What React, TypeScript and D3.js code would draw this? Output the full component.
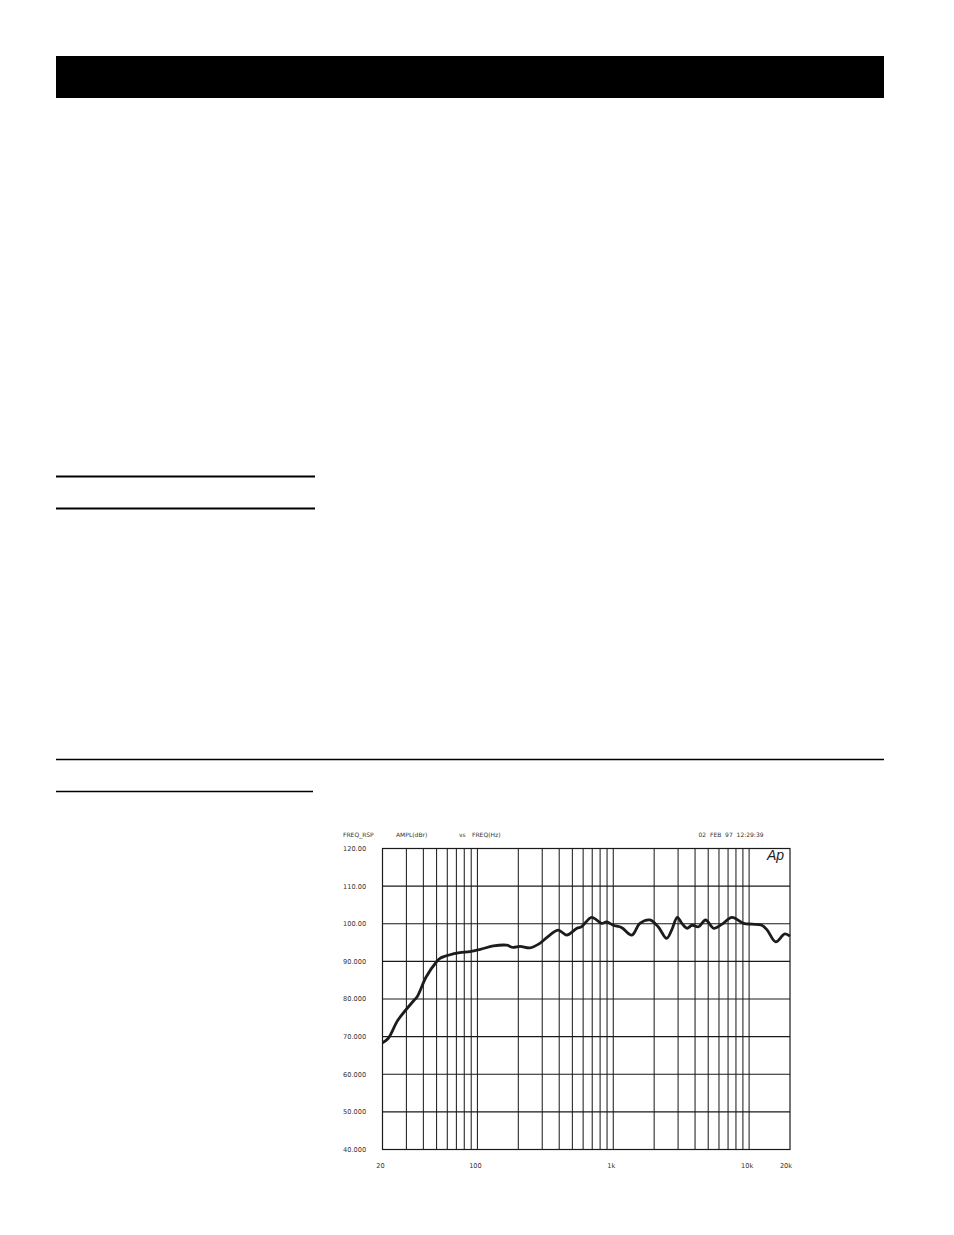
// FreqResponseChart.tsx
import React, { useEffect, useRef } from "react";
import * as d3 from "d3";

const freqs: number[] = [
  20, 22, 26, 34, 36, 42, 50, 53, 62, 74, 88, 105, 131, 164, 183, 206, 243,
  288, 341, 393, 454, 540, 584, 693, 821, 893, 1000, 1150, 1370, 1570, 1860,
  2140, 2470, 2690, 2960, 3200, 3490, 3800, 4240, 4780, 5500, 6330, 7470,
  9130, 10500, 12400, 13600, 15700, 18300, 20000,
];
const levels: number[] = [
  68.4, 69.5, 74.4, 79.6, 80.6, 85.9, 89.9, 90.8, 91.7, 92.3, 92.6, 93.2, 94.1,
  94.3, 93.7, 94.0, 93.6, 94.8, 97.0, 98.3, 97.0, 98.8, 99.2, 101.7, 100.1,
  100.5, 99.6, 99.0, 97.0, 100.1, 101.0, 99.2, 96.1, 98.3, 101.7, 100.1, 98.8,
  99.6, 99.2, 101.0, 98.8, 99.9, 101.7, 100.1, 99.9, 99.6, 98.3, 95.2, 97.3,
  96.7,
];

// Axis ticks
const yTicks: number[] = [40, 50, 60, 70, 80, 90, 100, 110, 120];
const yTickLabels: string[] = [
  "40.000", "50.000", "60.000", "70.000", "80.000", "90.000", "100.00",
  "110.00", "120.00",
];
const xTicks: number[] = [20, 100, 1000, 10000, 20000];
const xTickLabels: string[] = ["20", "100", "1k", "10k", "20k"];
const xGrid: number[] = [
  30, 40, 50, 60, 70, 80, 90, 100, 200, 300, 400, 500, 600, 700, 800, 900,
  1000, 2000, 3000, 4000, 5000, 6000, 7000, 8000, 9000, 10000,
];

// Header strings
const headerItems: { text: string; x: number }[] = [
  { text: "FREQ_RSP", x: 343 },
  { text: "AMPL(dBr)", x: 396 },
  { text: "vs", x: 459 },
  { text: "FREQ(Hz)", x: 472 },
];
const dateText = "02  FEB  97  12:29:39";

const FreqResponseChart: React.FC = () => {
  const ref = useRef<SVGSVGElement | null>(null);

  useEffect(() => {
    const width = 954,
      height = 1235;
    const svg = d3.select(ref.current);
    svg.selectAll("*").remove();
    svg.attr("width", width).attr("height", height);

    // Page decorations
    svg
      .append("rect")
      .attr("x", 56)
      .attr("y", 56)
      .attr("width", 828)
      .attr("height", 42)
      .attr("fill", "#000");

    const rules = [
      { x2: 315, y: 476.5, w: 2 },
      { x2: 315, y: 508.5, w: 2 },
      { x2: 884, y: 759.5, w: 1.3 },
      { x2: 313, y: 791.5, w: 1.3 },
    ];
    svg
      .selectAll(".rule")
      .data(rules)
      .enter()
      .append("line")
      .attr("x1", 56)
      .attr("x2", (d) => d.x2)
      .attr("y1", (d) => d.y)
      .attr("y2", (d) => d.y)
      .attr("stroke", "#000")
      .attr("stroke-width", (d) => d.w);

    // Plot area
    const left = 382.5,
      right = 790,
      top = 848.5,
      bottom = 1149.5;

    const x = d3.scaleLog().domain([20, 20000]).range([left, right]);
    const y = d3.scaleLinear().domain([40, 120]).range([bottom, top]);

    const font = "'DejaVu Sans', sans-serif";

    // Grid
    svg
      .selectAll(".vgrid")
      .data(xGrid)
      .enter()
      .append("line")
      .attr("x1", (d) => x(d))
      .attr("x2", (d) => x(d))
      .attr("y1", top)
      .attr("y2", bottom)
      .attr("stroke", "#2a2a2a")
      .attr("stroke-width", 1.1);

    svg
      .selectAll(".hgrid")
      .data(yTicks)
      .enter()
      .append("line")
      .attr("x1", left)
      .attr("x2", right)
      .attr("y1", (d) => y(d))
      .attr("y2", (d) => y(d))
      .attr("stroke", "#1a1a1a")
      .attr("stroke-width", 1.1);

    svg
      .append("rect")
      .attr("x", left)
      .attr("y", top)
      .attr("width", right - left)
      .attr("height", bottom - top)
      .attr("fill", "none")
      .attr("stroke", "#1a1a1a")
      .attr("stroke-width", 1.2);

    // Y labels
    svg
      .selectAll(".ylab")
      .data(yTicks)
      .enter()
      .append("text")
      .attr("x", 343)
      .attr("y", (d) => y(d) + 2.4)
      .style("font-family", font)
      .style("font-size", "6.6px")
      .attr("fill", "#333")
      .text((d, i) => yTickLabels[i]);

    // X labels
    svg
      .selectAll(".xlab")
      .data(xTicks)
      .enter()
      .append("text")
      .attr("x", (d) => x(d) - (d === 20000 ? 4 : 2))
      .attr("y", 1167.5)
      .attr("text-anchor", "middle")
      .style("font-family", font)
      .style("font-size", "6.6px")
      .attr("fill", "#333")
      .text((d, i) => xTickLabels[i]);

    // Header
    svg
      .selectAll(".head")
      .data(headerItems)
      .enter()
      .append("text")
      .attr("x", (d) => d.x)
      .attr("y", 837)
      .style("font-family", font)
      .style("font-size", "6px")
      .attr("fill", "#333")
      .text((d) => d.text);

    svg
      .append("text")
      .attr("x", 698.5)
      .attr("y", 837)
      .style("font-family", font)
      .style("font-size", "6px")
      .style("white-space", "pre")
      .attr("fill", "#333")
      .text(dateText);

    svg
      .append("text")
      .attr("x", 767)
      .attr("y", 860)
      .style("font-family", "'Liberation Sans', Arial, sans-serif")
      .style("font-size", "14px")
      .style("font-style", "italic")
      .attr("fill", "#222")
      .text("Ap");

    // Response curve
    const pts: [number, number][] = freqs.map((f, i) => [f, levels[i]]);
    const line = d3
      .line<[number, number]>()
      .x((d) => x(d[0]))
      .y((d) => y(d[1]))
      .curve(d3.curveCatmullRom.alpha(0.5));

    svg
      .append("path")
      .datum(pts)
      .attr("d", line)
      .attr("fill", "none")
      .attr("stroke", "#1c1c1c")
      .attr("stroke-width", 2.8)
      .attr("stroke-linejoin", "round");
  }, []);

  return (
    <svg
      ref={ref}
      style={{ position: "absolute", left: 0, top: 0, background: "#fff" }}
    />
  );
};

export default function App() {
  return <FreqResponseChart />;
}
